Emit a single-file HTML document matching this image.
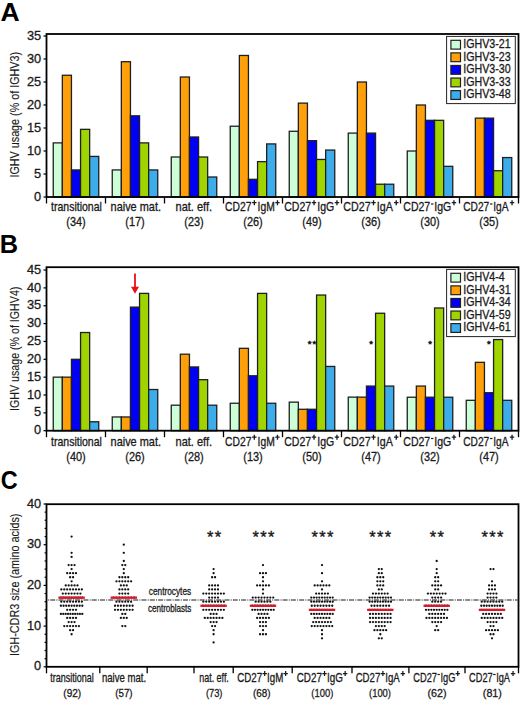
<!DOCTYPE html>
<html><head><meta charset="utf-8"><title>figure</title>
<style>html,body{margin:0;padding:0;background:#fff;} svg{display:block;} text{font-family:"Liberation Sans",sans-serif;}</style>
</head><body>
<svg width="520" height="702" viewBox="0 0 520 702" font-family="Liberation Sans, sans-serif">
<rect width="520" height="702" fill="#fff"/>
<text transform="translate(0.54,20.50) scale(1.0284,1)" font-size="25.8" font-weight="bold" fill="#000">A</text>
<rect x="53.25" y="142.88" width="9.10" height="54.12" fill="#ccffd8" stroke="#202020" stroke-width="1.3"/>
<rect x="62.35" y="75.24" width="9.10" height="121.76" fill="#ffa00a" stroke="#202020" stroke-width="1.3"/>
<rect x="71.45" y="169.94" width="9.10" height="27.06" fill="#0000f5" stroke="#202020" stroke-width="1.3"/>
<rect x="80.55" y="129.35" width="9.10" height="67.65" fill="#9fd400" stroke="#202020" stroke-width="1.3"/>
<rect x="89.65" y="156.41" width="9.10" height="40.59" fill="#3cacea" stroke="#202020" stroke-width="1.3"/>
<rect x="112.25" y="169.94" width="9.10" height="27.06" fill="#ccffd8" stroke="#202020" stroke-width="1.3"/>
<rect x="121.35" y="61.71" width="9.10" height="135.29" fill="#ffa00a" stroke="#202020" stroke-width="1.3"/>
<rect x="130.45" y="115.82" width="9.10" height="81.18" fill="#0000f5" stroke="#202020" stroke-width="1.3"/>
<rect x="139.55" y="142.88" width="9.10" height="54.12" fill="#9fd400" stroke="#202020" stroke-width="1.3"/>
<rect x="148.65" y="169.94" width="9.10" height="27.06" fill="#3cacea" stroke="#202020" stroke-width="1.3"/>
<rect x="171.25" y="157.00" width="9.10" height="40.00" fill="#ccffd8" stroke="#202020" stroke-width="1.3"/>
<rect x="180.35" y="77.00" width="9.10" height="120.00" fill="#ffa00a" stroke="#202020" stroke-width="1.3"/>
<rect x="189.45" y="137.00" width="9.10" height="60.00" fill="#0000f5" stroke="#202020" stroke-width="1.3"/>
<rect x="198.55" y="157.00" width="9.10" height="40.00" fill="#9fd400" stroke="#202020" stroke-width="1.3"/>
<rect x="207.65" y="177.00" width="9.10" height="20.00" fill="#3cacea" stroke="#202020" stroke-width="1.3"/>
<rect x="230.25" y="126.23" width="9.10" height="70.77" fill="#ccffd8" stroke="#202020" stroke-width="1.3"/>
<rect x="239.35" y="55.46" width="9.10" height="141.54" fill="#ffa00a" stroke="#202020" stroke-width="1.3"/>
<rect x="248.45" y="179.31" width="9.10" height="17.69" fill="#0000f5" stroke="#202020" stroke-width="1.3"/>
<rect x="257.55" y="161.62" width="9.10" height="35.38" fill="#9fd400" stroke="#202020" stroke-width="1.3"/>
<rect x="266.65" y="143.92" width="9.10" height="53.08" fill="#3cacea" stroke="#202020" stroke-width="1.3"/>
<rect x="289.25" y="131.29" width="9.10" height="65.71" fill="#ccffd8" stroke="#202020" stroke-width="1.3"/>
<rect x="298.35" y="103.12" width="9.10" height="93.88" fill="#ffa00a" stroke="#202020" stroke-width="1.3"/>
<rect x="307.45" y="140.67" width="9.10" height="56.33" fill="#0000f5" stroke="#202020" stroke-width="1.3"/>
<rect x="316.55" y="159.45" width="9.10" height="37.55" fill="#9fd400" stroke="#202020" stroke-width="1.3"/>
<rect x="325.65" y="150.06" width="9.10" height="46.94" fill="#3cacea" stroke="#202020" stroke-width="1.3"/>
<rect x="348.25" y="133.11" width="9.10" height="63.89" fill="#ccffd8" stroke="#202020" stroke-width="1.3"/>
<rect x="357.35" y="82.00" width="9.10" height="115.00" fill="#ffa00a" stroke="#202020" stroke-width="1.3"/>
<rect x="366.45" y="133.11" width="9.10" height="63.89" fill="#0000f5" stroke="#202020" stroke-width="1.3"/>
<rect x="375.55" y="184.22" width="9.10" height="12.78" fill="#9fd400" stroke="#202020" stroke-width="1.3"/>
<rect x="384.65" y="184.22" width="9.10" height="12.78" fill="#3cacea" stroke="#202020" stroke-width="1.3"/>
<rect x="407.25" y="151.00" width="9.10" height="46.00" fill="#ccffd8" stroke="#202020" stroke-width="1.3"/>
<rect x="416.35" y="105.00" width="9.10" height="92.00" fill="#ffa00a" stroke="#202020" stroke-width="1.3"/>
<rect x="425.45" y="120.33" width="9.10" height="76.67" fill="#0000f5" stroke="#202020" stroke-width="1.3"/>
<rect x="434.55" y="120.33" width="9.10" height="76.67" fill="#9fd400" stroke="#202020" stroke-width="1.3"/>
<rect x="443.65" y="166.33" width="9.10" height="30.67" fill="#3cacea" stroke="#202020" stroke-width="1.3"/>
<rect x="475.35" y="118.14" width="9.10" height="78.86" fill="#ffa00a" stroke="#202020" stroke-width="1.3"/>
<rect x="484.45" y="118.14" width="9.10" height="78.86" fill="#0000f5" stroke="#202020" stroke-width="1.3"/>
<rect x="493.55" y="170.71" width="9.10" height="26.29" fill="#9fd400" stroke="#202020" stroke-width="1.3"/>
<rect x="502.65" y="157.57" width="9.10" height="39.43" fill="#3cacea" stroke="#202020" stroke-width="1.3"/>
<rect x="46.5" y="34.0" width="472.0" height="163.0" fill="none" stroke="#000" stroke-width="1.8"/>
<line x1="43.5" y1="197.00" x2="46.5" y2="197.00" stroke="#000" stroke-width="1.2"/>
<text x="34.08" y="200.60" font-size="12.8" fill="#1a1a1a" stroke="#1a1a1a" stroke-width="0.3">0</text>
<line x1="43.5" y1="174.00" x2="46.5" y2="174.00" stroke="#000" stroke-width="1.2"/>
<text x="34.12" y="177.60" font-size="12.8" fill="#1a1a1a" stroke="#1a1a1a" stroke-width="0.3">5</text>
<line x1="43.5" y1="151.00" x2="46.5" y2="151.00" stroke="#000" stroke-width="1.2"/>
<text x="26.96" y="154.60" font-size="12.8" fill="#1a1a1a" stroke="#1a1a1a" stroke-width="0.3">10</text>
<line x1="43.5" y1="128.00" x2="46.5" y2="128.00" stroke="#000" stroke-width="1.2"/>
<text x="27.00" y="131.60" font-size="12.8" fill="#1a1a1a" stroke="#1a1a1a" stroke-width="0.3">15</text>
<line x1="43.5" y1="105.00" x2="46.5" y2="105.00" stroke="#000" stroke-width="1.2"/>
<text x="26.96" y="108.60" font-size="12.8" fill="#1a1a1a" stroke="#1a1a1a" stroke-width="0.3">20</text>
<line x1="43.5" y1="82.00" x2="46.5" y2="82.00" stroke="#000" stroke-width="1.2"/>
<text x="27.00" y="85.60" font-size="12.8" fill="#1a1a1a" stroke="#1a1a1a" stroke-width="0.3">25</text>
<line x1="43.5" y1="59.00" x2="46.5" y2="59.00" stroke="#000" stroke-width="1.2"/>
<text x="26.96" y="62.60" font-size="12.8" fill="#1a1a1a" stroke="#1a1a1a" stroke-width="0.3">30</text>
<line x1="43.5" y1="36.00" x2="46.5" y2="36.00" stroke="#000" stroke-width="1.2"/>
<text x="27.00" y="39.60" font-size="12.8" fill="#1a1a1a" stroke="#1a1a1a" stroke-width="0.3">35</text>
<line x1="46.50" y1="197.0" x2="46.50" y2="203.5" stroke="#000" stroke-width="1.3"/>
<line x1="105.50" y1="197.0" x2="105.50" y2="203.5" stroke="#000" stroke-width="1.3"/>
<line x1="164.50" y1="197.0" x2="164.50" y2="203.5" stroke="#000" stroke-width="1.3"/>
<line x1="223.50" y1="197.0" x2="223.50" y2="203.5" stroke="#000" stroke-width="1.3"/>
<line x1="282.50" y1="197.0" x2="282.50" y2="203.5" stroke="#000" stroke-width="1.3"/>
<line x1="341.50" y1="197.0" x2="341.50" y2="203.5" stroke="#000" stroke-width="1.3"/>
<line x1="400.50" y1="197.0" x2="400.50" y2="203.5" stroke="#000" stroke-width="1.3"/>
<line x1="459.50" y1="197.0" x2="459.50" y2="203.5" stroke="#000" stroke-width="1.3"/>
<line x1="518.50" y1="197.0" x2="518.50" y2="203.5" stroke="#000" stroke-width="1.3"/>
<text transform="translate(51.04,211.30) scale(0.8765,1)" font-size="12" font-weight="normal" fill="#1a1a1a" stroke="#1a1a1a" stroke-width="0.3">transitional</text>
<text transform="translate(66.27,226.10) scale(0.9118,1)" font-size="12" font-weight="normal" fill="#1a1a1a" stroke="#1a1a1a" stroke-width="0.3">(34)</text>
<text transform="translate(110.57,211.30) scale(0.9108,1)" font-size="12" font-weight="normal" fill="#1a1a1a" stroke="#1a1a1a" stroke-width="0.3">naive mat.</text>
<text transform="translate(125.27,226.10) scale(0.9118,1)" font-size="12" font-weight="normal" fill="#1a1a1a" stroke="#1a1a1a" stroke-width="0.3">(17)</text>
<text transform="translate(175.57,211.30) scale(0.9178,1)" font-size="12" font-weight="normal" fill="#1a1a1a" stroke="#1a1a1a" stroke-width="0.3">nat. eff.</text>
<text transform="translate(184.27,226.10) scale(0.9118,1)" font-size="12" font-weight="normal" fill="#1a1a1a" stroke="#1a1a1a" stroke-width="0.3">(23)</text>
<text transform="translate(225.03,211.30) scale(0.8611,1)" font-size="12" font-weight="normal" fill="#1a1a1a" stroke="#1a1a1a" stroke-width="0.3">CD27</text><path d="M252.13,202.70H256.53M254.33,200.20V205.20" stroke="#1a1a1a" stroke-width="1.3" fill="none"/><text transform="translate(257.57,211.30) scale(0.8611,1)" font-size="12" font-weight="normal" fill="#1a1a1a" stroke="#1a1a1a" stroke-width="0.3">IgM</text><path d="M275.25,202.70H279.65M277.45,200.20V205.20" stroke="#1a1a1a" stroke-width="1.3" fill="none"/>
<text transform="translate(243.27,226.10) scale(0.9118,1)" font-size="12" font-weight="normal" fill="#1a1a1a" stroke="#1a1a1a" stroke-width="0.3">(26)</text>
<text transform="translate(284.21,211.30) scale(0.8781,1)" font-size="12" font-weight="normal" fill="#1a1a1a" stroke="#1a1a1a" stroke-width="0.3">CD27</text><path d="M311.83,202.70H316.23M314.03,200.20V205.20" stroke="#1a1a1a" stroke-width="1.3" fill="none"/><text transform="translate(317.25,211.30) scale(0.8781,1)" font-size="12" font-weight="normal" fill="#1a1a1a" stroke="#1a1a1a" stroke-width="0.3">IgG</text><path d="M334.75,202.70H339.15M336.95,200.20V205.20" stroke="#1a1a1a" stroke-width="1.3" fill="none"/>
<text transform="translate(302.27,226.10) scale(0.9118,1)" font-size="12" font-weight="normal" fill="#1a1a1a" stroke="#1a1a1a" stroke-width="0.3">(49)</text>
<text transform="translate(343.31,211.30) scale(0.8911,1)" font-size="12" font-weight="normal" fill="#1a1a1a" stroke="#1a1a1a" stroke-width="0.3">CD27</text><path d="M371.31,202.70H375.71M373.51,200.20V205.20" stroke="#1a1a1a" stroke-width="1.3" fill="none"/><text transform="translate(376.72,211.30) scale(0.8911,1)" font-size="12" font-weight="normal" fill="#1a1a1a" stroke="#1a1a1a" stroke-width="0.3">IgA</text><path d="M394.05,202.70H398.45M396.25,200.20V205.20" stroke="#1a1a1a" stroke-width="1.3" fill="none"/>
<text transform="translate(361.27,226.10) scale(0.9118,1)" font-size="12" font-weight="normal" fill="#1a1a1a" stroke="#1a1a1a" stroke-width="0.3">(36)</text>
<text transform="translate(403.31,211.30) scale(0.8781,1)" font-size="12" font-weight="normal" fill="#1a1a1a" stroke="#1a1a1a" stroke-width="0.3">CD27</text><rect x="431.03" y="203.40" width="2.40" height="1.2" fill="#1a1a1a"/><text transform="translate(434.25,211.30) scale(0.8781,1)" font-size="12" font-weight="normal" fill="#1a1a1a" stroke="#1a1a1a" stroke-width="0.3">IgG</text><path d="M451.75,202.70H456.15M453.95,200.20V205.20" stroke="#1a1a1a" stroke-width="1.3" fill="none"/>
<text transform="translate(420.27,226.10) scale(0.9118,1)" font-size="12" font-weight="normal" fill="#1a1a1a" stroke="#1a1a1a" stroke-width="0.3">(30)</text>
<text transform="translate(463.23,211.30) scale(0.8479,1)" font-size="12" font-weight="normal" fill="#1a1a1a" stroke="#1a1a1a" stroke-width="0.3">CD27</text><rect x="490.04" y="203.40" width="2.40" height="1.2" fill="#1a1a1a"/><text transform="translate(493.30,211.30) scale(0.8479,1)" font-size="12" font-weight="normal" fill="#1a1a1a" stroke="#1a1a1a" stroke-width="0.3">IgA</text><path d="M509.85,202.70H514.25M512.05,200.20V205.20" stroke="#1a1a1a" stroke-width="1.3" fill="none"/>
<text transform="translate(479.27,226.10) scale(0.9118,1)" font-size="12" font-weight="normal" fill="#1a1a1a" stroke="#1a1a1a" stroke-width="0.3">(35)</text>
<text transform="translate(18.90,177.49) rotate(-90) scale(0.8747,1)" font-size="12.3" fill="#1a1a1a" stroke="#1a1a1a" stroke-width="0.12">IGHV usage (% of IGHV3)</text>
<rect x="446.6" y="36.4" width="68.69999999999993" height="67.19999999999999" fill="#fff" stroke="#222" stroke-width="1"/>
<rect x="450.9" y="40.30" width="9.6" height="8.8" fill="#ccffd8" stroke="#202020" stroke-width="1.2"/>
<text transform="translate(463.21,48.10) scale(0.8750,1)" font-size="12.2" font-weight="normal" fill="#1a1a1a" stroke="#1a1a1a" stroke-width="0.3">IGHV3-21</text>
<rect x="450.9" y="52.88" width="9.6" height="8.8" fill="#ffa00a" stroke="#202020" stroke-width="1.2"/>
<text transform="translate(463.21,60.68) scale(0.8750,1)" font-size="12.2" font-weight="normal" fill="#1a1a1a" stroke="#1a1a1a" stroke-width="0.3">IGHV3-23</text>
<rect x="450.9" y="65.46" width="9.6" height="8.8" fill="#0000f5" stroke="#202020" stroke-width="1.2"/>
<text transform="translate(463.21,73.26) scale(0.8750,1)" font-size="12.2" font-weight="normal" fill="#1a1a1a" stroke="#1a1a1a" stroke-width="0.3">IGHV3-30</text>
<rect x="450.9" y="78.04" width="9.6" height="8.8" fill="#9fd400" stroke="#202020" stroke-width="1.2"/>
<text transform="translate(463.21,85.84) scale(0.8750,1)" font-size="12.2" font-weight="normal" fill="#1a1a1a" stroke="#1a1a1a" stroke-width="0.3">IGHV3-33</text>
<rect x="450.9" y="90.62" width="9.6" height="8.8" fill="#3cacea" stroke="#202020" stroke-width="1.2"/>
<text transform="translate(463.21,98.42) scale(0.8750,1)" font-size="12.2" font-weight="normal" fill="#1a1a1a" stroke="#1a1a1a" stroke-width="0.3">IGHV3-48</text>
<text transform="translate(-0.30,252.80) scale(0.9851,1)" font-size="25.8" font-weight="bold" fill="#000">B</text>
<rect x="53.25" y="377.15" width="9.10" height="53.55" fill="#ccffd8" stroke="#202020" stroke-width="1.3"/>
<rect x="62.35" y="377.15" width="9.10" height="53.55" fill="#ffa00a" stroke="#202020" stroke-width="1.3"/>
<rect x="71.45" y="359.30" width="9.10" height="71.40" fill="#0000f5" stroke="#202020" stroke-width="1.3"/>
<rect x="80.55" y="332.52" width="9.10" height="98.17" fill="#9fd400" stroke="#202020" stroke-width="1.3"/>
<rect x="89.65" y="421.77" width="9.10" height="8.92" fill="#3cacea" stroke="#202020" stroke-width="1.3"/>
<rect x="112.25" y="416.97" width="9.10" height="13.73" fill="#ccffd8" stroke="#202020" stroke-width="1.3"/>
<rect x="121.35" y="416.97" width="9.10" height="13.73" fill="#ffa00a" stroke="#202020" stroke-width="1.3"/>
<rect x="130.45" y="307.12" width="9.10" height="123.58" fill="#0000f5" stroke="#202020" stroke-width="1.3"/>
<rect x="139.55" y="293.39" width="9.10" height="137.31" fill="#9fd400" stroke="#202020" stroke-width="1.3"/>
<rect x="148.65" y="389.51" width="9.10" height="41.19" fill="#3cacea" stroke="#202020" stroke-width="1.3"/>
<rect x="171.25" y="405.20" width="9.10" height="25.50" fill="#ccffd8" stroke="#202020" stroke-width="1.3"/>
<rect x="180.35" y="354.20" width="9.10" height="76.50" fill="#ffa00a" stroke="#202020" stroke-width="1.3"/>
<rect x="189.45" y="366.95" width="9.10" height="63.75" fill="#0000f5" stroke="#202020" stroke-width="1.3"/>
<rect x="198.55" y="379.70" width="9.10" height="51.00" fill="#9fd400" stroke="#202020" stroke-width="1.3"/>
<rect x="207.65" y="405.20" width="9.10" height="25.50" fill="#3cacea" stroke="#202020" stroke-width="1.3"/>
<rect x="230.25" y="403.24" width="9.10" height="27.46" fill="#ccffd8" stroke="#202020" stroke-width="1.3"/>
<rect x="239.35" y="348.32" width="9.10" height="82.38" fill="#ffa00a" stroke="#202020" stroke-width="1.3"/>
<rect x="248.45" y="375.78" width="9.10" height="54.92" fill="#0000f5" stroke="#202020" stroke-width="1.3"/>
<rect x="257.55" y="293.39" width="9.10" height="137.31" fill="#9fd400" stroke="#202020" stroke-width="1.3"/>
<rect x="266.65" y="403.24" width="9.10" height="27.46" fill="#3cacea" stroke="#202020" stroke-width="1.3"/>
<rect x="289.25" y="402.14" width="9.10" height="28.56" fill="#ccffd8" stroke="#202020" stroke-width="1.3"/>
<rect x="298.35" y="409.28" width="9.10" height="21.42" fill="#ffa00a" stroke="#202020" stroke-width="1.3"/>
<rect x="307.45" y="409.28" width="9.10" height="21.42" fill="#0000f5" stroke="#202020" stroke-width="1.3"/>
<rect x="316.55" y="295.04" width="9.10" height="135.66" fill="#9fd400" stroke="#202020" stroke-width="1.3"/>
<rect x="325.65" y="366.44" width="9.10" height="64.26" fill="#3cacea" stroke="#202020" stroke-width="1.3"/>
<rect x="348.25" y="397.14" width="9.10" height="33.56" fill="#ccffd8" stroke="#202020" stroke-width="1.3"/>
<rect x="357.35" y="397.14" width="9.10" height="33.56" fill="#ffa00a" stroke="#202020" stroke-width="1.3"/>
<rect x="366.45" y="386.07" width="9.10" height="44.62" fill="#0000f5" stroke="#202020" stroke-width="1.3"/>
<rect x="375.55" y="313.25" width="9.10" height="117.45" fill="#9fd400" stroke="#202020" stroke-width="1.3"/>
<rect x="384.65" y="386.07" width="9.10" height="44.62" fill="#3cacea" stroke="#202020" stroke-width="1.3"/>
<rect x="407.25" y="397.23" width="9.10" height="33.47" fill="#ccffd8" stroke="#202020" stroke-width="1.3"/>
<rect x="416.35" y="386.07" width="9.10" height="44.62" fill="#ffa00a" stroke="#202020" stroke-width="1.3"/>
<rect x="425.45" y="397.23" width="9.10" height="33.47" fill="#0000f5" stroke="#202020" stroke-width="1.3"/>
<rect x="434.55" y="307.98" width="9.10" height="122.72" fill="#9fd400" stroke="#202020" stroke-width="1.3"/>
<rect x="443.65" y="397.23" width="9.10" height="33.47" fill="#3cacea" stroke="#202020" stroke-width="1.3"/>
<rect x="466.25" y="400.32" width="9.10" height="30.38" fill="#ccffd8" stroke="#202020" stroke-width="1.3"/>
<rect x="475.35" y="362.34" width="9.10" height="68.36" fill="#ffa00a" stroke="#202020" stroke-width="1.3"/>
<rect x="484.45" y="392.72" width="9.10" height="37.98" fill="#0000f5" stroke="#202020" stroke-width="1.3"/>
<rect x="493.55" y="339.55" width="9.10" height="91.15" fill="#9fd400" stroke="#202020" stroke-width="1.3"/>
<rect x="502.65" y="400.32" width="9.10" height="30.38" fill="#3cacea" stroke="#202020" stroke-width="1.3"/>
<rect x="46.5" y="267.2" width="472.0" height="163.5" fill="none" stroke="#000" stroke-width="1.8"/>
<line x1="43.5" y1="430.70" x2="46.5" y2="430.70" stroke="#000" stroke-width="1.2"/>
<text x="34.08" y="434.30" font-size="12.8" fill="#1a1a1a" stroke="#1a1a1a" stroke-width="0.3">0</text>
<line x1="43.5" y1="412.85" x2="46.5" y2="412.85" stroke="#000" stroke-width="1.2"/>
<text x="34.12" y="416.45" font-size="12.8" fill="#1a1a1a" stroke="#1a1a1a" stroke-width="0.3">5</text>
<line x1="43.5" y1="395.00" x2="46.5" y2="395.00" stroke="#000" stroke-width="1.2"/>
<text x="26.96" y="398.60" font-size="12.8" fill="#1a1a1a" stroke="#1a1a1a" stroke-width="0.3">10</text>
<line x1="43.5" y1="377.15" x2="46.5" y2="377.15" stroke="#000" stroke-width="1.2"/>
<text x="27.00" y="380.75" font-size="12.8" fill="#1a1a1a" stroke="#1a1a1a" stroke-width="0.3">15</text>
<line x1="43.5" y1="359.30" x2="46.5" y2="359.30" stroke="#000" stroke-width="1.2"/>
<text x="26.96" y="362.90" font-size="12.8" fill="#1a1a1a" stroke="#1a1a1a" stroke-width="0.3">20</text>
<line x1="43.5" y1="341.45" x2="46.5" y2="341.45" stroke="#000" stroke-width="1.2"/>
<text x="27.00" y="345.05" font-size="12.8" fill="#1a1a1a" stroke="#1a1a1a" stroke-width="0.3">25</text>
<line x1="43.5" y1="323.60" x2="46.5" y2="323.60" stroke="#000" stroke-width="1.2"/>
<text x="26.96" y="327.20" font-size="12.8" fill="#1a1a1a" stroke="#1a1a1a" stroke-width="0.3">30</text>
<line x1="43.5" y1="305.75" x2="46.5" y2="305.75" stroke="#000" stroke-width="1.2"/>
<text x="27.00" y="309.35" font-size="12.8" fill="#1a1a1a" stroke="#1a1a1a" stroke-width="0.3">35</text>
<line x1="43.5" y1="287.90" x2="46.5" y2="287.90" stroke="#000" stroke-width="1.2"/>
<text x="26.96" y="291.50" font-size="12.8" fill="#1a1a1a" stroke="#1a1a1a" stroke-width="0.3">40</text>
<line x1="43.5" y1="270.05" x2="46.5" y2="270.05" stroke="#000" stroke-width="1.2"/>
<text x="27.00" y="273.65" font-size="12.8" fill="#1a1a1a" stroke="#1a1a1a" stroke-width="0.3">45</text>
<line x1="46.50" y1="430.7" x2="46.50" y2="437.2" stroke="#000" stroke-width="1.3"/>
<line x1="105.50" y1="430.7" x2="105.50" y2="437.2" stroke="#000" stroke-width="1.3"/>
<line x1="164.50" y1="430.7" x2="164.50" y2="437.2" stroke="#000" stroke-width="1.3"/>
<line x1="223.50" y1="430.7" x2="223.50" y2="437.2" stroke="#000" stroke-width="1.3"/>
<line x1="282.50" y1="430.7" x2="282.50" y2="437.2" stroke="#000" stroke-width="1.3"/>
<line x1="341.50" y1="430.7" x2="341.50" y2="437.2" stroke="#000" stroke-width="1.3"/>
<line x1="400.50" y1="430.7" x2="400.50" y2="437.2" stroke="#000" stroke-width="1.3"/>
<line x1="459.50" y1="430.7" x2="459.50" y2="437.2" stroke="#000" stroke-width="1.3"/>
<line x1="518.50" y1="430.7" x2="518.50" y2="437.2" stroke="#000" stroke-width="1.3"/>
<text transform="translate(51.04,445.80) scale(0.8765,1)" font-size="12" font-weight="normal" fill="#1a1a1a" stroke="#1a1a1a" stroke-width="0.3">transitional</text>
<text transform="translate(66.27,461.00) scale(0.9118,1)" font-size="12" font-weight="normal" fill="#1a1a1a" stroke="#1a1a1a" stroke-width="0.3">(40)</text>
<text transform="translate(110.57,445.80) scale(0.9108,1)" font-size="12" font-weight="normal" fill="#1a1a1a" stroke="#1a1a1a" stroke-width="0.3">naive mat.</text>
<text transform="translate(125.27,461.00) scale(0.9118,1)" font-size="12" font-weight="normal" fill="#1a1a1a" stroke="#1a1a1a" stroke-width="0.3">(26)</text>
<text transform="translate(175.57,445.80) scale(0.9178,1)" font-size="12" font-weight="normal" fill="#1a1a1a" stroke="#1a1a1a" stroke-width="0.3">nat. eff.</text>
<text transform="translate(184.27,461.00) scale(0.9118,1)" font-size="12" font-weight="normal" fill="#1a1a1a" stroke="#1a1a1a" stroke-width="0.3">(28)</text>
<text transform="translate(225.03,445.80) scale(0.8611,1)" font-size="12" font-weight="normal" fill="#1a1a1a" stroke="#1a1a1a" stroke-width="0.3">CD27</text><path d="M252.13,437.20H256.53M254.33,434.70V439.70" stroke="#1a1a1a" stroke-width="1.3" fill="none"/><text transform="translate(257.57,445.80) scale(0.8611,1)" font-size="12" font-weight="normal" fill="#1a1a1a" stroke="#1a1a1a" stroke-width="0.3">IgM</text><path d="M275.25,437.20H279.65M277.45,434.70V439.70" stroke="#1a1a1a" stroke-width="1.3" fill="none"/>
<text transform="translate(243.27,461.00) scale(0.9118,1)" font-size="12" font-weight="normal" fill="#1a1a1a" stroke="#1a1a1a" stroke-width="0.3">(13)</text>
<text transform="translate(284.21,445.80) scale(0.8781,1)" font-size="12" font-weight="normal" fill="#1a1a1a" stroke="#1a1a1a" stroke-width="0.3">CD27</text><path d="M311.83,437.20H316.23M314.03,434.70V439.70" stroke="#1a1a1a" stroke-width="1.3" fill="none"/><text transform="translate(317.25,445.80) scale(0.8781,1)" font-size="12" font-weight="normal" fill="#1a1a1a" stroke="#1a1a1a" stroke-width="0.3">IgG</text><path d="M334.75,437.20H339.15M336.95,434.70V439.70" stroke="#1a1a1a" stroke-width="1.3" fill="none"/>
<text transform="translate(302.27,461.00) scale(0.9118,1)" font-size="12" font-weight="normal" fill="#1a1a1a" stroke="#1a1a1a" stroke-width="0.3">(50)</text>
<text transform="translate(343.31,445.80) scale(0.8911,1)" font-size="12" font-weight="normal" fill="#1a1a1a" stroke="#1a1a1a" stroke-width="0.3">CD27</text><path d="M371.31,437.20H375.71M373.51,434.70V439.70" stroke="#1a1a1a" stroke-width="1.3" fill="none"/><text transform="translate(376.72,445.80) scale(0.8911,1)" font-size="12" font-weight="normal" fill="#1a1a1a" stroke="#1a1a1a" stroke-width="0.3">IgA</text><path d="M394.05,437.20H398.45M396.25,434.70V439.70" stroke="#1a1a1a" stroke-width="1.3" fill="none"/>
<text transform="translate(361.27,461.00) scale(0.9118,1)" font-size="12" font-weight="normal" fill="#1a1a1a" stroke="#1a1a1a" stroke-width="0.3">(47)</text>
<text transform="translate(403.31,445.80) scale(0.8781,1)" font-size="12" font-weight="normal" fill="#1a1a1a" stroke="#1a1a1a" stroke-width="0.3">CD27</text><rect x="431.03" y="437.90" width="2.40" height="1.2" fill="#1a1a1a"/><text transform="translate(434.25,445.80) scale(0.8781,1)" font-size="12" font-weight="normal" fill="#1a1a1a" stroke="#1a1a1a" stroke-width="0.3">IgG</text><path d="M451.75,437.20H456.15M453.95,434.70V439.70" stroke="#1a1a1a" stroke-width="1.3" fill="none"/>
<text transform="translate(420.27,461.00) scale(0.9118,1)" font-size="12" font-weight="normal" fill="#1a1a1a" stroke="#1a1a1a" stroke-width="0.3">(32)</text>
<text transform="translate(463.23,445.80) scale(0.8479,1)" font-size="12" font-weight="normal" fill="#1a1a1a" stroke="#1a1a1a" stroke-width="0.3">CD27</text><rect x="490.04" y="437.90" width="2.40" height="1.2" fill="#1a1a1a"/><text transform="translate(493.30,445.80) scale(0.8479,1)" font-size="12" font-weight="normal" fill="#1a1a1a" stroke="#1a1a1a" stroke-width="0.3">IgA</text><path d="M509.85,437.20H514.25M512.05,434.70V439.70" stroke="#1a1a1a" stroke-width="1.3" fill="none"/>
<text transform="translate(479.27,461.00) scale(0.9118,1)" font-size="12" font-weight="normal" fill="#1a1a1a" stroke="#1a1a1a" stroke-width="0.3">(47)</text>
<text transform="translate(18.90,410.98) rotate(-90) scale(0.8669,1)" font-size="12.3" fill="#1a1a1a" stroke="#1a1a1a" stroke-width="0.12">IGHV usage (% of IGHV4)</text>
<rect x="446.6" y="269.4" width="68.69999999999993" height="67.19999999999999" fill="#fff" stroke="#222" stroke-width="1"/>
<rect x="450.9" y="273.30" width="9.6" height="8.8" fill="#ccffd8" stroke="#202020" stroke-width="1.2"/>
<text transform="translate(463.21,281.10) scale(0.8750,1)" font-size="12.2" font-weight="normal" fill="#1a1a1a" stroke="#1a1a1a" stroke-width="0.3">IGHV4-4</text>
<rect x="450.9" y="285.88" width="9.6" height="8.8" fill="#ffa00a" stroke="#202020" stroke-width="1.2"/>
<text transform="translate(463.21,293.68) scale(0.8750,1)" font-size="12.2" font-weight="normal" fill="#1a1a1a" stroke="#1a1a1a" stroke-width="0.3">IGHV4-31</text>
<rect x="450.9" y="298.46" width="9.6" height="8.8" fill="#0000f5" stroke="#202020" stroke-width="1.2"/>
<text transform="translate(463.21,306.26) scale(0.8750,1)" font-size="12.2" font-weight="normal" fill="#1a1a1a" stroke="#1a1a1a" stroke-width="0.3">IGHV4-34</text>
<rect x="450.9" y="311.04" width="9.6" height="8.8" fill="#9fd400" stroke="#202020" stroke-width="1.2"/>
<text transform="translate(463.21,318.84) scale(0.8750,1)" font-size="12.2" font-weight="normal" fill="#1a1a1a" stroke="#1a1a1a" stroke-width="0.3">IGHV4-59</text>
<rect x="450.9" y="323.62" width="9.6" height="8.8" fill="#3cacea" stroke="#202020" stroke-width="1.2"/>
<text transform="translate(463.21,331.42) scale(0.8750,1)" font-size="12.2" font-weight="normal" fill="#1a1a1a" stroke="#1a1a1a" stroke-width="0.3">IGHV4-61</text>
<line x1="135" y1="273.5" x2="135" y2="288.5" stroke="#e5101e" stroke-width="1.8"/>
<path d="M131,286.8 L139,286.8 L135,293.8 Z" fill="#e5101e"/>
<text x="307.65" y="347.27" font-size="9.5" fill="#1a1a1a" stroke="#1a1a1a" stroke-width="0.5">*</text>
<text x="312.55" y="347.27" font-size="9.5" fill="#1a1a1a" stroke="#1a1a1a" stroke-width="0.5">*</text>
<text x="369.15" y="347.27" font-size="9.5" fill="#1a1a1a" stroke="#1a1a1a" stroke-width="0.5">*</text>
<text x="428.15" y="347.27" font-size="9.5" fill="#1a1a1a" stroke="#1a1a1a" stroke-width="0.5">*</text>
<text x="486.95" y="347.27" font-size="9.5" fill="#1a1a1a" stroke="#1a1a1a" stroke-width="0.5">*</text>
<text transform="translate(0.84,488.50) scale(0.9070,1)" font-size="25.8" font-weight="bold" fill="#000">C</text>
<line x1="47.5" y1="600.05" x2="517.5" y2="600.05" stroke="#666" stroke-width="1.4" stroke-dasharray="5 1.2 1 1.1" stroke-dashoffset="5.6"/>
<circle cx="71.60" cy="536.56" r="1.15" fill="#111"/>
<circle cx="71.60" cy="552.84" r="1.15" fill="#111"/>
<circle cx="71.60" cy="556.91" r="1.15" fill="#111"/>
<circle cx="68.67" cy="565.05" r="1.15" fill="#111"/>
<circle cx="71.60" cy="565.05" r="1.15" fill="#111"/>
<circle cx="74.53" cy="565.05" r="1.15" fill="#111"/>
<circle cx="71.60" cy="569.12" r="1.15" fill="#111"/>
<circle cx="67.20" cy="573.19" r="1.15" fill="#111"/>
<circle cx="70.13" cy="573.19" r="1.15" fill="#111"/>
<circle cx="73.06" cy="573.19" r="1.15" fill="#111"/>
<circle cx="75.99" cy="573.19" r="1.15" fill="#111"/>
<circle cx="70.13" cy="577.26" r="1.15" fill="#111"/>
<circle cx="73.06" cy="577.26" r="1.15" fill="#111"/>
<circle cx="71.60" cy="581.33" r="1.15" fill="#111"/>
<circle cx="65.74" cy="585.40" r="1.15" fill="#111"/>
<circle cx="68.67" cy="585.40" r="1.15" fill="#111"/>
<circle cx="71.60" cy="585.40" r="1.15" fill="#111"/>
<circle cx="74.53" cy="585.40" r="1.15" fill="#111"/>
<circle cx="77.46" cy="585.40" r="1.15" fill="#111"/>
<circle cx="61.34" cy="589.47" r="1.15" fill="#111"/>
<circle cx="64.27" cy="589.47" r="1.15" fill="#111"/>
<circle cx="67.20" cy="589.47" r="1.15" fill="#111"/>
<circle cx="70.13" cy="589.47" r="1.15" fill="#111"/>
<circle cx="73.06" cy="589.47" r="1.15" fill="#111"/>
<circle cx="75.99" cy="589.47" r="1.15" fill="#111"/>
<circle cx="78.92" cy="589.47" r="1.15" fill="#111"/>
<circle cx="81.85" cy="589.47" r="1.15" fill="#111"/>
<circle cx="62.81" cy="593.54" r="1.15" fill="#111"/>
<circle cx="65.74" cy="593.54" r="1.15" fill="#111"/>
<circle cx="68.67" cy="593.54" r="1.15" fill="#111"/>
<circle cx="71.60" cy="593.54" r="1.15" fill="#111"/>
<circle cx="74.53" cy="593.54" r="1.15" fill="#111"/>
<circle cx="77.46" cy="593.54" r="1.15" fill="#111"/>
<circle cx="80.39" cy="593.54" r="1.15" fill="#111"/>
<circle cx="60.90" cy="597.61" r="1.15" fill="#111"/>
<circle cx="63.04" cy="597.61" r="1.15" fill="#111"/>
<circle cx="65.18" cy="597.61" r="1.15" fill="#111"/>
<circle cx="67.32" cy="597.61" r="1.15" fill="#111"/>
<circle cx="69.46" cy="597.61" r="1.15" fill="#111"/>
<circle cx="71.60" cy="597.61" r="1.15" fill="#111"/>
<circle cx="73.74" cy="597.61" r="1.15" fill="#111"/>
<circle cx="75.88" cy="597.61" r="1.15" fill="#111"/>
<circle cx="78.02" cy="597.61" r="1.15" fill="#111"/>
<circle cx="80.16" cy="597.61" r="1.15" fill="#111"/>
<circle cx="82.30" cy="597.61" r="1.15" fill="#111"/>
<circle cx="61.34" cy="601.68" r="1.15" fill="#111"/>
<circle cx="64.27" cy="601.68" r="1.15" fill="#111"/>
<circle cx="67.20" cy="601.68" r="1.15" fill="#111"/>
<circle cx="70.13" cy="601.68" r="1.15" fill="#111"/>
<circle cx="73.06" cy="601.68" r="1.15" fill="#111"/>
<circle cx="75.99" cy="601.68" r="1.15" fill="#111"/>
<circle cx="78.92" cy="601.68" r="1.15" fill="#111"/>
<circle cx="81.85" cy="601.68" r="1.15" fill="#111"/>
<circle cx="60.90" cy="605.75" r="1.15" fill="#111"/>
<circle cx="63.57" cy="605.75" r="1.15" fill="#111"/>
<circle cx="66.25" cy="605.75" r="1.15" fill="#111"/>
<circle cx="68.92" cy="605.75" r="1.15" fill="#111"/>
<circle cx="71.60" cy="605.75" r="1.15" fill="#111"/>
<circle cx="74.27" cy="605.75" r="1.15" fill="#111"/>
<circle cx="76.95" cy="605.75" r="1.15" fill="#111"/>
<circle cx="79.62" cy="605.75" r="1.15" fill="#111"/>
<circle cx="82.30" cy="605.75" r="1.15" fill="#111"/>
<circle cx="67.20" cy="609.82" r="1.15" fill="#111"/>
<circle cx="70.13" cy="609.82" r="1.15" fill="#111"/>
<circle cx="73.06" cy="609.82" r="1.15" fill="#111"/>
<circle cx="75.99" cy="609.82" r="1.15" fill="#111"/>
<circle cx="60.90" cy="613.89" r="1.15" fill="#111"/>
<circle cx="63.28" cy="613.89" r="1.15" fill="#111"/>
<circle cx="65.66" cy="613.89" r="1.15" fill="#111"/>
<circle cx="68.03" cy="613.89" r="1.15" fill="#111"/>
<circle cx="70.41" cy="613.89" r="1.15" fill="#111"/>
<circle cx="72.79" cy="613.89" r="1.15" fill="#111"/>
<circle cx="75.17" cy="613.89" r="1.15" fill="#111"/>
<circle cx="77.54" cy="613.89" r="1.15" fill="#111"/>
<circle cx="79.92" cy="613.89" r="1.15" fill="#111"/>
<circle cx="82.30" cy="613.89" r="1.15" fill="#111"/>
<circle cx="67.20" cy="617.96" r="1.15" fill="#111"/>
<circle cx="70.13" cy="617.96" r="1.15" fill="#111"/>
<circle cx="73.06" cy="617.96" r="1.15" fill="#111"/>
<circle cx="75.99" cy="617.96" r="1.15" fill="#111"/>
<circle cx="68.67" cy="622.03" r="1.15" fill="#111"/>
<circle cx="71.60" cy="622.03" r="1.15" fill="#111"/>
<circle cx="74.53" cy="622.03" r="1.15" fill="#111"/>
<circle cx="64.27" cy="626.10" r="1.15" fill="#111"/>
<circle cx="67.20" cy="626.10" r="1.15" fill="#111"/>
<circle cx="70.13" cy="626.10" r="1.15" fill="#111"/>
<circle cx="73.06" cy="626.10" r="1.15" fill="#111"/>
<circle cx="75.99" cy="626.10" r="1.15" fill="#111"/>
<circle cx="78.92" cy="626.10" r="1.15" fill="#111"/>
<circle cx="70.13" cy="630.17" r="1.15" fill="#111"/>
<circle cx="73.06" cy="630.17" r="1.15" fill="#111"/>
<circle cx="71.60" cy="634.24" r="1.15" fill="#111"/>
<rect x="58.40" y="596.51" width="26.4" height="2.3" fill="#d8182a"/>
<circle cx="123.80" cy="544.70" r="1.15" fill="#111"/>
<circle cx="123.80" cy="552.84" r="1.15" fill="#111"/>
<circle cx="123.80" cy="560.98" r="1.15" fill="#111"/>
<circle cx="122.33" cy="565.05" r="1.15" fill="#111"/>
<circle cx="125.27" cy="565.05" r="1.15" fill="#111"/>
<circle cx="123.80" cy="569.12" r="1.15" fill="#111"/>
<circle cx="123.80" cy="573.19" r="1.15" fill="#111"/>
<circle cx="119.41" cy="577.26" r="1.15" fill="#111"/>
<circle cx="122.33" cy="577.26" r="1.15" fill="#111"/>
<circle cx="125.27" cy="577.26" r="1.15" fill="#111"/>
<circle cx="128.19" cy="577.26" r="1.15" fill="#111"/>
<circle cx="116.47" cy="581.33" r="1.15" fill="#111"/>
<circle cx="119.41" cy="581.33" r="1.15" fill="#111"/>
<circle cx="122.33" cy="581.33" r="1.15" fill="#111"/>
<circle cx="125.27" cy="581.33" r="1.15" fill="#111"/>
<circle cx="128.19" cy="581.33" r="1.15" fill="#111"/>
<circle cx="131.12" cy="581.33" r="1.15" fill="#111"/>
<circle cx="120.87" cy="585.40" r="1.15" fill="#111"/>
<circle cx="123.80" cy="585.40" r="1.15" fill="#111"/>
<circle cx="126.73" cy="585.40" r="1.15" fill="#111"/>
<circle cx="119.41" cy="589.47" r="1.15" fill="#111"/>
<circle cx="122.33" cy="589.47" r="1.15" fill="#111"/>
<circle cx="125.27" cy="589.47" r="1.15" fill="#111"/>
<circle cx="128.19" cy="589.47" r="1.15" fill="#111"/>
<circle cx="119.41" cy="593.54" r="1.15" fill="#111"/>
<circle cx="122.33" cy="593.54" r="1.15" fill="#111"/>
<circle cx="125.27" cy="593.54" r="1.15" fill="#111"/>
<circle cx="128.19" cy="593.54" r="1.15" fill="#111"/>
<circle cx="113.55" cy="597.61" r="1.15" fill="#111"/>
<circle cx="116.47" cy="597.61" r="1.15" fill="#111"/>
<circle cx="119.41" cy="597.61" r="1.15" fill="#111"/>
<circle cx="122.33" cy="597.61" r="1.15" fill="#111"/>
<circle cx="125.27" cy="597.61" r="1.15" fill="#111"/>
<circle cx="128.19" cy="597.61" r="1.15" fill="#111"/>
<circle cx="131.12" cy="597.61" r="1.15" fill="#111"/>
<circle cx="134.06" cy="597.61" r="1.15" fill="#111"/>
<circle cx="116.47" cy="601.68" r="1.15" fill="#111"/>
<circle cx="119.41" cy="601.68" r="1.15" fill="#111"/>
<circle cx="122.33" cy="601.68" r="1.15" fill="#111"/>
<circle cx="125.27" cy="601.68" r="1.15" fill="#111"/>
<circle cx="128.19" cy="601.68" r="1.15" fill="#111"/>
<circle cx="131.12" cy="601.68" r="1.15" fill="#111"/>
<circle cx="115.01" cy="605.75" r="1.15" fill="#111"/>
<circle cx="117.94" cy="605.75" r="1.15" fill="#111"/>
<circle cx="120.87" cy="605.75" r="1.15" fill="#111"/>
<circle cx="123.80" cy="605.75" r="1.15" fill="#111"/>
<circle cx="126.73" cy="605.75" r="1.15" fill="#111"/>
<circle cx="129.66" cy="605.75" r="1.15" fill="#111"/>
<circle cx="132.59" cy="605.75" r="1.15" fill="#111"/>
<circle cx="115.01" cy="609.82" r="1.15" fill="#111"/>
<circle cx="117.94" cy="609.82" r="1.15" fill="#111"/>
<circle cx="120.87" cy="609.82" r="1.15" fill="#111"/>
<circle cx="123.80" cy="609.82" r="1.15" fill="#111"/>
<circle cx="126.73" cy="609.82" r="1.15" fill="#111"/>
<circle cx="129.66" cy="609.82" r="1.15" fill="#111"/>
<circle cx="132.59" cy="609.82" r="1.15" fill="#111"/>
<circle cx="122.33" cy="613.89" r="1.15" fill="#111"/>
<circle cx="125.27" cy="613.89" r="1.15" fill="#111"/>
<circle cx="120.87" cy="617.96" r="1.15" fill="#111"/>
<circle cx="123.80" cy="617.96" r="1.15" fill="#111"/>
<circle cx="126.73" cy="617.96" r="1.15" fill="#111"/>
<circle cx="122.33" cy="626.10" r="1.15" fill="#111"/>
<circle cx="125.27" cy="626.10" r="1.15" fill="#111"/>
<rect x="110.60" y="596.51" width="26.4" height="2.3" fill="#d8182a"/>
<circle cx="213.60" cy="569.12" r="1.15" fill="#111"/>
<circle cx="213.60" cy="573.19" r="1.15" fill="#111"/>
<circle cx="212.13" cy="577.26" r="1.15" fill="#111"/>
<circle cx="215.06" cy="577.26" r="1.15" fill="#111"/>
<circle cx="209.20" cy="585.40" r="1.15" fill="#111"/>
<circle cx="212.13" cy="585.40" r="1.15" fill="#111"/>
<circle cx="215.06" cy="585.40" r="1.15" fill="#111"/>
<circle cx="218.00" cy="585.40" r="1.15" fill="#111"/>
<circle cx="209.20" cy="589.47" r="1.15" fill="#111"/>
<circle cx="212.13" cy="589.47" r="1.15" fill="#111"/>
<circle cx="215.06" cy="589.47" r="1.15" fill="#111"/>
<circle cx="218.00" cy="589.47" r="1.15" fill="#111"/>
<circle cx="203.34" cy="593.54" r="1.15" fill="#111"/>
<circle cx="206.28" cy="593.54" r="1.15" fill="#111"/>
<circle cx="209.20" cy="593.54" r="1.15" fill="#111"/>
<circle cx="212.13" cy="593.54" r="1.15" fill="#111"/>
<circle cx="215.06" cy="593.54" r="1.15" fill="#111"/>
<circle cx="218.00" cy="593.54" r="1.15" fill="#111"/>
<circle cx="220.92" cy="593.54" r="1.15" fill="#111"/>
<circle cx="223.85" cy="593.54" r="1.15" fill="#111"/>
<circle cx="209.20" cy="597.61" r="1.15" fill="#111"/>
<circle cx="212.13" cy="597.61" r="1.15" fill="#111"/>
<circle cx="215.06" cy="597.61" r="1.15" fill="#111"/>
<circle cx="218.00" cy="597.61" r="1.15" fill="#111"/>
<circle cx="203.34" cy="601.68" r="1.15" fill="#111"/>
<circle cx="206.28" cy="601.68" r="1.15" fill="#111"/>
<circle cx="209.20" cy="601.68" r="1.15" fill="#111"/>
<circle cx="212.13" cy="601.68" r="1.15" fill="#111"/>
<circle cx="215.06" cy="601.68" r="1.15" fill="#111"/>
<circle cx="218.00" cy="601.68" r="1.15" fill="#111"/>
<circle cx="220.92" cy="601.68" r="1.15" fill="#111"/>
<circle cx="223.85" cy="601.68" r="1.15" fill="#111"/>
<circle cx="202.90" cy="605.75" r="1.15" fill="#111"/>
<circle cx="205.57" cy="605.75" r="1.15" fill="#111"/>
<circle cx="208.25" cy="605.75" r="1.15" fill="#111"/>
<circle cx="210.92" cy="605.75" r="1.15" fill="#111"/>
<circle cx="213.60" cy="605.75" r="1.15" fill="#111"/>
<circle cx="216.28" cy="605.75" r="1.15" fill="#111"/>
<circle cx="218.95" cy="605.75" r="1.15" fill="#111"/>
<circle cx="221.62" cy="605.75" r="1.15" fill="#111"/>
<circle cx="224.30" cy="605.75" r="1.15" fill="#111"/>
<circle cx="203.34" cy="609.82" r="1.15" fill="#111"/>
<circle cx="206.28" cy="609.82" r="1.15" fill="#111"/>
<circle cx="209.20" cy="609.82" r="1.15" fill="#111"/>
<circle cx="212.13" cy="609.82" r="1.15" fill="#111"/>
<circle cx="215.06" cy="609.82" r="1.15" fill="#111"/>
<circle cx="218.00" cy="609.82" r="1.15" fill="#111"/>
<circle cx="220.92" cy="609.82" r="1.15" fill="#111"/>
<circle cx="223.85" cy="609.82" r="1.15" fill="#111"/>
<circle cx="210.67" cy="613.89" r="1.15" fill="#111"/>
<circle cx="213.60" cy="613.89" r="1.15" fill="#111"/>
<circle cx="216.53" cy="613.89" r="1.15" fill="#111"/>
<circle cx="204.81" cy="617.96" r="1.15" fill="#111"/>
<circle cx="207.74" cy="617.96" r="1.15" fill="#111"/>
<circle cx="210.67" cy="617.96" r="1.15" fill="#111"/>
<circle cx="213.60" cy="617.96" r="1.15" fill="#111"/>
<circle cx="216.53" cy="617.96" r="1.15" fill="#111"/>
<circle cx="219.46" cy="617.96" r="1.15" fill="#111"/>
<circle cx="222.39" cy="617.96" r="1.15" fill="#111"/>
<circle cx="210.67" cy="622.03" r="1.15" fill="#111"/>
<circle cx="213.60" cy="622.03" r="1.15" fill="#111"/>
<circle cx="216.53" cy="622.03" r="1.15" fill="#111"/>
<circle cx="212.13" cy="626.10" r="1.15" fill="#111"/>
<circle cx="215.06" cy="626.10" r="1.15" fill="#111"/>
<circle cx="213.60" cy="630.17" r="1.15" fill="#111"/>
<circle cx="213.60" cy="634.24" r="1.15" fill="#111"/>
<circle cx="213.60" cy="642.38" r="1.15" fill="#111"/>
<rect x="200.40" y="604.65" width="26.4" height="2.3" fill="#d8182a"/>
<circle cx="263.00" cy="565.05" r="1.15" fill="#111"/>
<circle cx="260.07" cy="573.19" r="1.15" fill="#111"/>
<circle cx="263.00" cy="573.19" r="1.15" fill="#111"/>
<circle cx="265.93" cy="573.19" r="1.15" fill="#111"/>
<circle cx="263.00" cy="577.26" r="1.15" fill="#111"/>
<circle cx="263.00" cy="581.33" r="1.15" fill="#111"/>
<circle cx="257.14" cy="585.40" r="1.15" fill="#111"/>
<circle cx="260.07" cy="585.40" r="1.15" fill="#111"/>
<circle cx="263.00" cy="585.40" r="1.15" fill="#111"/>
<circle cx="265.93" cy="585.40" r="1.15" fill="#111"/>
<circle cx="268.86" cy="585.40" r="1.15" fill="#111"/>
<circle cx="263.00" cy="589.47" r="1.15" fill="#111"/>
<circle cx="263.00" cy="593.54" r="1.15" fill="#111"/>
<circle cx="252.75" cy="597.61" r="1.15" fill="#111"/>
<circle cx="255.68" cy="597.61" r="1.15" fill="#111"/>
<circle cx="258.61" cy="597.61" r="1.15" fill="#111"/>
<circle cx="261.54" cy="597.61" r="1.15" fill="#111"/>
<circle cx="264.46" cy="597.61" r="1.15" fill="#111"/>
<circle cx="267.39" cy="597.61" r="1.15" fill="#111"/>
<circle cx="270.32" cy="597.61" r="1.15" fill="#111"/>
<circle cx="273.25" cy="597.61" r="1.15" fill="#111"/>
<circle cx="255.68" cy="601.68" r="1.15" fill="#111"/>
<circle cx="258.61" cy="601.68" r="1.15" fill="#111"/>
<circle cx="261.54" cy="601.68" r="1.15" fill="#111"/>
<circle cx="264.46" cy="601.68" r="1.15" fill="#111"/>
<circle cx="267.39" cy="601.68" r="1.15" fill="#111"/>
<circle cx="270.32" cy="601.68" r="1.15" fill="#111"/>
<circle cx="252.30" cy="605.75" r="1.15" fill="#111"/>
<circle cx="254.97" cy="605.75" r="1.15" fill="#111"/>
<circle cx="257.65" cy="605.75" r="1.15" fill="#111"/>
<circle cx="260.32" cy="605.75" r="1.15" fill="#111"/>
<circle cx="263.00" cy="605.75" r="1.15" fill="#111"/>
<circle cx="265.68" cy="605.75" r="1.15" fill="#111"/>
<circle cx="268.35" cy="605.75" r="1.15" fill="#111"/>
<circle cx="271.02" cy="605.75" r="1.15" fill="#111"/>
<circle cx="273.70" cy="605.75" r="1.15" fill="#111"/>
<circle cx="252.30" cy="609.82" r="1.15" fill="#111"/>
<circle cx="254.97" cy="609.82" r="1.15" fill="#111"/>
<circle cx="257.65" cy="609.82" r="1.15" fill="#111"/>
<circle cx="260.32" cy="609.82" r="1.15" fill="#111"/>
<circle cx="263.00" cy="609.82" r="1.15" fill="#111"/>
<circle cx="265.68" cy="609.82" r="1.15" fill="#111"/>
<circle cx="268.35" cy="609.82" r="1.15" fill="#111"/>
<circle cx="271.02" cy="609.82" r="1.15" fill="#111"/>
<circle cx="273.70" cy="609.82" r="1.15" fill="#111"/>
<circle cx="258.61" cy="613.89" r="1.15" fill="#111"/>
<circle cx="261.54" cy="613.89" r="1.15" fill="#111"/>
<circle cx="264.46" cy="613.89" r="1.15" fill="#111"/>
<circle cx="267.39" cy="613.89" r="1.15" fill="#111"/>
<circle cx="257.14" cy="617.96" r="1.15" fill="#111"/>
<circle cx="260.07" cy="617.96" r="1.15" fill="#111"/>
<circle cx="263.00" cy="617.96" r="1.15" fill="#111"/>
<circle cx="265.93" cy="617.96" r="1.15" fill="#111"/>
<circle cx="268.86" cy="617.96" r="1.15" fill="#111"/>
<circle cx="260.07" cy="622.03" r="1.15" fill="#111"/>
<circle cx="263.00" cy="622.03" r="1.15" fill="#111"/>
<circle cx="265.93" cy="622.03" r="1.15" fill="#111"/>
<circle cx="260.07" cy="626.10" r="1.15" fill="#111"/>
<circle cx="263.00" cy="626.10" r="1.15" fill="#111"/>
<circle cx="265.93" cy="626.10" r="1.15" fill="#111"/>
<circle cx="263.00" cy="630.17" r="1.15" fill="#111"/>
<circle cx="260.07" cy="634.24" r="1.15" fill="#111"/>
<circle cx="263.00" cy="634.24" r="1.15" fill="#111"/>
<circle cx="265.93" cy="634.24" r="1.15" fill="#111"/>
<rect x="249.80" y="604.65" width="26.4" height="2.3" fill="#d8182a"/>
<circle cx="322.00" cy="565.05" r="1.15" fill="#111"/>
<circle cx="322.00" cy="573.19" r="1.15" fill="#111"/>
<circle cx="322.00" cy="581.33" r="1.15" fill="#111"/>
<circle cx="314.68" cy="585.40" r="1.15" fill="#111"/>
<circle cx="317.61" cy="585.40" r="1.15" fill="#111"/>
<circle cx="320.54" cy="585.40" r="1.15" fill="#111"/>
<circle cx="323.46" cy="585.40" r="1.15" fill="#111"/>
<circle cx="326.39" cy="585.40" r="1.15" fill="#111"/>
<circle cx="329.32" cy="585.40" r="1.15" fill="#111"/>
<circle cx="322.00" cy="589.47" r="1.15" fill="#111"/>
<circle cx="316.14" cy="593.54" r="1.15" fill="#111"/>
<circle cx="319.07" cy="593.54" r="1.15" fill="#111"/>
<circle cx="322.00" cy="593.54" r="1.15" fill="#111"/>
<circle cx="324.93" cy="593.54" r="1.15" fill="#111"/>
<circle cx="327.86" cy="593.54" r="1.15" fill="#111"/>
<circle cx="311.30" cy="597.61" r="1.15" fill="#111"/>
<circle cx="313.98" cy="597.61" r="1.15" fill="#111"/>
<circle cx="316.65" cy="597.61" r="1.15" fill="#111"/>
<circle cx="319.32" cy="597.61" r="1.15" fill="#111"/>
<circle cx="322.00" cy="597.61" r="1.15" fill="#111"/>
<circle cx="324.68" cy="597.61" r="1.15" fill="#111"/>
<circle cx="327.35" cy="597.61" r="1.15" fill="#111"/>
<circle cx="330.02" cy="597.61" r="1.15" fill="#111"/>
<circle cx="332.70" cy="597.61" r="1.15" fill="#111"/>
<circle cx="311.30" cy="601.68" r="1.15" fill="#111"/>
<circle cx="313.98" cy="601.68" r="1.15" fill="#111"/>
<circle cx="316.65" cy="601.68" r="1.15" fill="#111"/>
<circle cx="319.32" cy="601.68" r="1.15" fill="#111"/>
<circle cx="322.00" cy="601.68" r="1.15" fill="#111"/>
<circle cx="324.68" cy="601.68" r="1.15" fill="#111"/>
<circle cx="327.35" cy="601.68" r="1.15" fill="#111"/>
<circle cx="330.02" cy="601.68" r="1.15" fill="#111"/>
<circle cx="332.70" cy="601.68" r="1.15" fill="#111"/>
<circle cx="311.75" cy="605.75" r="1.15" fill="#111"/>
<circle cx="314.68" cy="605.75" r="1.15" fill="#111"/>
<circle cx="317.61" cy="605.75" r="1.15" fill="#111"/>
<circle cx="320.54" cy="605.75" r="1.15" fill="#111"/>
<circle cx="323.46" cy="605.75" r="1.15" fill="#111"/>
<circle cx="326.39" cy="605.75" r="1.15" fill="#111"/>
<circle cx="329.32" cy="605.75" r="1.15" fill="#111"/>
<circle cx="332.25" cy="605.75" r="1.15" fill="#111"/>
<circle cx="311.30" cy="609.82" r="1.15" fill="#111"/>
<circle cx="313.98" cy="609.82" r="1.15" fill="#111"/>
<circle cx="316.65" cy="609.82" r="1.15" fill="#111"/>
<circle cx="319.32" cy="609.82" r="1.15" fill="#111"/>
<circle cx="322.00" cy="609.82" r="1.15" fill="#111"/>
<circle cx="324.68" cy="609.82" r="1.15" fill="#111"/>
<circle cx="327.35" cy="609.82" r="1.15" fill="#111"/>
<circle cx="330.02" cy="609.82" r="1.15" fill="#111"/>
<circle cx="332.70" cy="609.82" r="1.15" fill="#111"/>
<circle cx="311.30" cy="613.89" r="1.15" fill="#111"/>
<circle cx="313.98" cy="613.89" r="1.15" fill="#111"/>
<circle cx="316.65" cy="613.89" r="1.15" fill="#111"/>
<circle cx="319.32" cy="613.89" r="1.15" fill="#111"/>
<circle cx="322.00" cy="613.89" r="1.15" fill="#111"/>
<circle cx="324.68" cy="613.89" r="1.15" fill="#111"/>
<circle cx="327.35" cy="613.89" r="1.15" fill="#111"/>
<circle cx="330.02" cy="613.89" r="1.15" fill="#111"/>
<circle cx="332.70" cy="613.89" r="1.15" fill="#111"/>
<circle cx="314.68" cy="617.96" r="1.15" fill="#111"/>
<circle cx="317.61" cy="617.96" r="1.15" fill="#111"/>
<circle cx="320.54" cy="617.96" r="1.15" fill="#111"/>
<circle cx="323.46" cy="617.96" r="1.15" fill="#111"/>
<circle cx="326.39" cy="617.96" r="1.15" fill="#111"/>
<circle cx="329.32" cy="617.96" r="1.15" fill="#111"/>
<circle cx="313.21" cy="622.03" r="1.15" fill="#111"/>
<circle cx="316.14" cy="622.03" r="1.15" fill="#111"/>
<circle cx="319.07" cy="622.03" r="1.15" fill="#111"/>
<circle cx="322.00" cy="622.03" r="1.15" fill="#111"/>
<circle cx="324.93" cy="622.03" r="1.15" fill="#111"/>
<circle cx="327.86" cy="622.03" r="1.15" fill="#111"/>
<circle cx="330.79" cy="622.03" r="1.15" fill="#111"/>
<circle cx="311.75" cy="626.10" r="1.15" fill="#111"/>
<circle cx="314.68" cy="626.10" r="1.15" fill="#111"/>
<circle cx="317.61" cy="626.10" r="1.15" fill="#111"/>
<circle cx="320.54" cy="626.10" r="1.15" fill="#111"/>
<circle cx="323.46" cy="626.10" r="1.15" fill="#111"/>
<circle cx="326.39" cy="626.10" r="1.15" fill="#111"/>
<circle cx="329.32" cy="626.10" r="1.15" fill="#111"/>
<circle cx="332.25" cy="626.10" r="1.15" fill="#111"/>
<circle cx="322.00" cy="630.17" r="1.15" fill="#111"/>
<circle cx="322.00" cy="634.24" r="1.15" fill="#111"/>
<circle cx="322.00" cy="638.31" r="1.15" fill="#111"/>
<rect x="308.80" y="608.72" width="26.4" height="2.3" fill="#d8182a"/>
<circle cx="378.84" cy="569.12" r="1.15" fill="#111"/>
<circle cx="381.76" cy="569.12" r="1.15" fill="#111"/>
<circle cx="378.84" cy="573.19" r="1.15" fill="#111"/>
<circle cx="381.76" cy="573.19" r="1.15" fill="#111"/>
<circle cx="377.37" cy="577.26" r="1.15" fill="#111"/>
<circle cx="380.30" cy="577.26" r="1.15" fill="#111"/>
<circle cx="383.23" cy="577.26" r="1.15" fill="#111"/>
<circle cx="377.37" cy="581.33" r="1.15" fill="#111"/>
<circle cx="380.30" cy="581.33" r="1.15" fill="#111"/>
<circle cx="383.23" cy="581.33" r="1.15" fill="#111"/>
<circle cx="377.37" cy="585.40" r="1.15" fill="#111"/>
<circle cx="380.30" cy="585.40" r="1.15" fill="#111"/>
<circle cx="383.23" cy="585.40" r="1.15" fill="#111"/>
<circle cx="378.84" cy="589.47" r="1.15" fill="#111"/>
<circle cx="381.76" cy="589.47" r="1.15" fill="#111"/>
<circle cx="372.98" cy="593.54" r="1.15" fill="#111"/>
<circle cx="375.91" cy="593.54" r="1.15" fill="#111"/>
<circle cx="378.84" cy="593.54" r="1.15" fill="#111"/>
<circle cx="381.76" cy="593.54" r="1.15" fill="#111"/>
<circle cx="384.69" cy="593.54" r="1.15" fill="#111"/>
<circle cx="387.62" cy="593.54" r="1.15" fill="#111"/>
<circle cx="369.60" cy="597.61" r="1.15" fill="#111"/>
<circle cx="372.28" cy="597.61" r="1.15" fill="#111"/>
<circle cx="374.95" cy="597.61" r="1.15" fill="#111"/>
<circle cx="377.62" cy="597.61" r="1.15" fill="#111"/>
<circle cx="380.30" cy="597.61" r="1.15" fill="#111"/>
<circle cx="382.98" cy="597.61" r="1.15" fill="#111"/>
<circle cx="385.65" cy="597.61" r="1.15" fill="#111"/>
<circle cx="388.32" cy="597.61" r="1.15" fill="#111"/>
<circle cx="391.00" cy="597.61" r="1.15" fill="#111"/>
<circle cx="369.60" cy="601.68" r="1.15" fill="#111"/>
<circle cx="372.28" cy="601.68" r="1.15" fill="#111"/>
<circle cx="374.95" cy="601.68" r="1.15" fill="#111"/>
<circle cx="377.62" cy="601.68" r="1.15" fill="#111"/>
<circle cx="380.30" cy="601.68" r="1.15" fill="#111"/>
<circle cx="382.98" cy="601.68" r="1.15" fill="#111"/>
<circle cx="385.65" cy="601.68" r="1.15" fill="#111"/>
<circle cx="388.32" cy="601.68" r="1.15" fill="#111"/>
<circle cx="391.00" cy="601.68" r="1.15" fill="#111"/>
<circle cx="371.51" cy="605.75" r="1.15" fill="#111"/>
<circle cx="374.44" cy="605.75" r="1.15" fill="#111"/>
<circle cx="377.37" cy="605.75" r="1.15" fill="#111"/>
<circle cx="380.30" cy="605.75" r="1.15" fill="#111"/>
<circle cx="383.23" cy="605.75" r="1.15" fill="#111"/>
<circle cx="386.16" cy="605.75" r="1.15" fill="#111"/>
<circle cx="389.09" cy="605.75" r="1.15" fill="#111"/>
<circle cx="369.60" cy="609.82" r="1.15" fill="#111"/>
<circle cx="372.28" cy="609.82" r="1.15" fill="#111"/>
<circle cx="374.95" cy="609.82" r="1.15" fill="#111"/>
<circle cx="377.62" cy="609.82" r="1.15" fill="#111"/>
<circle cx="380.30" cy="609.82" r="1.15" fill="#111"/>
<circle cx="382.98" cy="609.82" r="1.15" fill="#111"/>
<circle cx="385.65" cy="609.82" r="1.15" fill="#111"/>
<circle cx="388.32" cy="609.82" r="1.15" fill="#111"/>
<circle cx="391.00" cy="609.82" r="1.15" fill="#111"/>
<circle cx="370.05" cy="613.89" r="1.15" fill="#111"/>
<circle cx="372.98" cy="613.89" r="1.15" fill="#111"/>
<circle cx="375.91" cy="613.89" r="1.15" fill="#111"/>
<circle cx="378.84" cy="613.89" r="1.15" fill="#111"/>
<circle cx="381.76" cy="613.89" r="1.15" fill="#111"/>
<circle cx="384.69" cy="613.89" r="1.15" fill="#111"/>
<circle cx="387.62" cy="613.89" r="1.15" fill="#111"/>
<circle cx="390.56" cy="613.89" r="1.15" fill="#111"/>
<circle cx="370.05" cy="617.96" r="1.15" fill="#111"/>
<circle cx="372.98" cy="617.96" r="1.15" fill="#111"/>
<circle cx="375.91" cy="617.96" r="1.15" fill="#111"/>
<circle cx="378.84" cy="617.96" r="1.15" fill="#111"/>
<circle cx="381.76" cy="617.96" r="1.15" fill="#111"/>
<circle cx="384.69" cy="617.96" r="1.15" fill="#111"/>
<circle cx="387.62" cy="617.96" r="1.15" fill="#111"/>
<circle cx="390.56" cy="617.96" r="1.15" fill="#111"/>
<circle cx="370.05" cy="622.03" r="1.15" fill="#111"/>
<circle cx="372.98" cy="622.03" r="1.15" fill="#111"/>
<circle cx="375.91" cy="622.03" r="1.15" fill="#111"/>
<circle cx="378.84" cy="622.03" r="1.15" fill="#111"/>
<circle cx="381.76" cy="622.03" r="1.15" fill="#111"/>
<circle cx="384.69" cy="622.03" r="1.15" fill="#111"/>
<circle cx="387.62" cy="622.03" r="1.15" fill="#111"/>
<circle cx="390.56" cy="622.03" r="1.15" fill="#111"/>
<circle cx="375.91" cy="626.10" r="1.15" fill="#111"/>
<circle cx="378.84" cy="626.10" r="1.15" fill="#111"/>
<circle cx="381.76" cy="626.10" r="1.15" fill="#111"/>
<circle cx="384.69" cy="626.10" r="1.15" fill="#111"/>
<circle cx="374.44" cy="630.17" r="1.15" fill="#111"/>
<circle cx="377.37" cy="630.17" r="1.15" fill="#111"/>
<circle cx="380.30" cy="630.17" r="1.15" fill="#111"/>
<circle cx="383.23" cy="630.17" r="1.15" fill="#111"/>
<circle cx="386.16" cy="630.17" r="1.15" fill="#111"/>
<circle cx="380.30" cy="634.24" r="1.15" fill="#111"/>
<circle cx="378.84" cy="638.31" r="1.15" fill="#111"/>
<circle cx="381.76" cy="638.31" r="1.15" fill="#111"/>
<rect x="367.10" y="608.72" width="26.4" height="2.3" fill="#d8182a"/>
<circle cx="436.70" cy="560.98" r="1.15" fill="#111"/>
<circle cx="436.70" cy="569.12" r="1.15" fill="#111"/>
<circle cx="436.70" cy="573.19" r="1.15" fill="#111"/>
<circle cx="435.24" cy="577.26" r="1.15" fill="#111"/>
<circle cx="438.16" cy="577.26" r="1.15" fill="#111"/>
<circle cx="435.24" cy="581.33" r="1.15" fill="#111"/>
<circle cx="438.16" cy="581.33" r="1.15" fill="#111"/>
<circle cx="432.31" cy="585.40" r="1.15" fill="#111"/>
<circle cx="435.24" cy="585.40" r="1.15" fill="#111"/>
<circle cx="438.16" cy="585.40" r="1.15" fill="#111"/>
<circle cx="441.09" cy="585.40" r="1.15" fill="#111"/>
<circle cx="435.24" cy="589.47" r="1.15" fill="#111"/>
<circle cx="438.16" cy="589.47" r="1.15" fill="#111"/>
<circle cx="427.91" cy="593.54" r="1.15" fill="#111"/>
<circle cx="430.84" cy="593.54" r="1.15" fill="#111"/>
<circle cx="433.77" cy="593.54" r="1.15" fill="#111"/>
<circle cx="436.70" cy="593.54" r="1.15" fill="#111"/>
<circle cx="439.63" cy="593.54" r="1.15" fill="#111"/>
<circle cx="442.56" cy="593.54" r="1.15" fill="#111"/>
<circle cx="445.49" cy="593.54" r="1.15" fill="#111"/>
<circle cx="432.31" cy="597.61" r="1.15" fill="#111"/>
<circle cx="435.24" cy="597.61" r="1.15" fill="#111"/>
<circle cx="438.16" cy="597.61" r="1.15" fill="#111"/>
<circle cx="441.09" cy="597.61" r="1.15" fill="#111"/>
<circle cx="432.31" cy="601.68" r="1.15" fill="#111"/>
<circle cx="435.24" cy="601.68" r="1.15" fill="#111"/>
<circle cx="438.16" cy="601.68" r="1.15" fill="#111"/>
<circle cx="441.09" cy="601.68" r="1.15" fill="#111"/>
<circle cx="426.00" cy="605.75" r="1.15" fill="#111"/>
<circle cx="428.68" cy="605.75" r="1.15" fill="#111"/>
<circle cx="431.35" cy="605.75" r="1.15" fill="#111"/>
<circle cx="434.02" cy="605.75" r="1.15" fill="#111"/>
<circle cx="436.70" cy="605.75" r="1.15" fill="#111"/>
<circle cx="439.38" cy="605.75" r="1.15" fill="#111"/>
<circle cx="442.05" cy="605.75" r="1.15" fill="#111"/>
<circle cx="444.72" cy="605.75" r="1.15" fill="#111"/>
<circle cx="447.40" cy="605.75" r="1.15" fill="#111"/>
<circle cx="426.00" cy="609.82" r="1.15" fill="#111"/>
<circle cx="428.68" cy="609.82" r="1.15" fill="#111"/>
<circle cx="431.35" cy="609.82" r="1.15" fill="#111"/>
<circle cx="434.02" cy="609.82" r="1.15" fill="#111"/>
<circle cx="436.70" cy="609.82" r="1.15" fill="#111"/>
<circle cx="439.38" cy="609.82" r="1.15" fill="#111"/>
<circle cx="442.05" cy="609.82" r="1.15" fill="#111"/>
<circle cx="444.72" cy="609.82" r="1.15" fill="#111"/>
<circle cx="447.40" cy="609.82" r="1.15" fill="#111"/>
<circle cx="429.38" cy="613.89" r="1.15" fill="#111"/>
<circle cx="432.31" cy="613.89" r="1.15" fill="#111"/>
<circle cx="435.24" cy="613.89" r="1.15" fill="#111"/>
<circle cx="438.16" cy="613.89" r="1.15" fill="#111"/>
<circle cx="441.09" cy="613.89" r="1.15" fill="#111"/>
<circle cx="444.02" cy="613.89" r="1.15" fill="#111"/>
<circle cx="426.44" cy="617.96" r="1.15" fill="#111"/>
<circle cx="429.38" cy="617.96" r="1.15" fill="#111"/>
<circle cx="432.31" cy="617.96" r="1.15" fill="#111"/>
<circle cx="435.24" cy="617.96" r="1.15" fill="#111"/>
<circle cx="438.16" cy="617.96" r="1.15" fill="#111"/>
<circle cx="441.09" cy="617.96" r="1.15" fill="#111"/>
<circle cx="444.02" cy="617.96" r="1.15" fill="#111"/>
<circle cx="446.95" cy="617.96" r="1.15" fill="#111"/>
<circle cx="432.31" cy="622.03" r="1.15" fill="#111"/>
<circle cx="435.24" cy="622.03" r="1.15" fill="#111"/>
<circle cx="438.16" cy="622.03" r="1.15" fill="#111"/>
<circle cx="441.09" cy="622.03" r="1.15" fill="#111"/>
<circle cx="436.70" cy="626.10" r="1.15" fill="#111"/>
<circle cx="435.24" cy="630.17" r="1.15" fill="#111"/>
<circle cx="438.16" cy="630.17" r="1.15" fill="#111"/>
<rect x="423.50" y="604.65" width="26.4" height="2.3" fill="#d8182a"/>
<circle cx="490.54" cy="569.12" r="1.15" fill="#111"/>
<circle cx="493.46" cy="569.12" r="1.15" fill="#111"/>
<circle cx="492.00" cy="581.33" r="1.15" fill="#111"/>
<circle cx="489.07" cy="585.40" r="1.15" fill="#111"/>
<circle cx="492.00" cy="585.40" r="1.15" fill="#111"/>
<circle cx="494.93" cy="585.40" r="1.15" fill="#111"/>
<circle cx="489.07" cy="589.47" r="1.15" fill="#111"/>
<circle cx="492.00" cy="589.47" r="1.15" fill="#111"/>
<circle cx="494.93" cy="589.47" r="1.15" fill="#111"/>
<circle cx="487.61" cy="593.54" r="1.15" fill="#111"/>
<circle cx="490.54" cy="593.54" r="1.15" fill="#111"/>
<circle cx="493.46" cy="593.54" r="1.15" fill="#111"/>
<circle cx="496.39" cy="593.54" r="1.15" fill="#111"/>
<circle cx="487.61" cy="597.61" r="1.15" fill="#111"/>
<circle cx="490.54" cy="597.61" r="1.15" fill="#111"/>
<circle cx="493.46" cy="597.61" r="1.15" fill="#111"/>
<circle cx="496.39" cy="597.61" r="1.15" fill="#111"/>
<circle cx="481.75" cy="601.68" r="1.15" fill="#111"/>
<circle cx="484.68" cy="601.68" r="1.15" fill="#111"/>
<circle cx="487.61" cy="601.68" r="1.15" fill="#111"/>
<circle cx="490.54" cy="601.68" r="1.15" fill="#111"/>
<circle cx="493.46" cy="601.68" r="1.15" fill="#111"/>
<circle cx="496.39" cy="601.68" r="1.15" fill="#111"/>
<circle cx="499.32" cy="601.68" r="1.15" fill="#111"/>
<circle cx="502.25" cy="601.68" r="1.15" fill="#111"/>
<circle cx="481.30" cy="605.75" r="1.15" fill="#111"/>
<circle cx="483.98" cy="605.75" r="1.15" fill="#111"/>
<circle cx="486.65" cy="605.75" r="1.15" fill="#111"/>
<circle cx="489.32" cy="605.75" r="1.15" fill="#111"/>
<circle cx="492.00" cy="605.75" r="1.15" fill="#111"/>
<circle cx="494.68" cy="605.75" r="1.15" fill="#111"/>
<circle cx="497.35" cy="605.75" r="1.15" fill="#111"/>
<circle cx="500.02" cy="605.75" r="1.15" fill="#111"/>
<circle cx="502.70" cy="605.75" r="1.15" fill="#111"/>
<circle cx="481.30" cy="609.82" r="1.15" fill="#111"/>
<circle cx="483.98" cy="609.82" r="1.15" fill="#111"/>
<circle cx="486.65" cy="609.82" r="1.15" fill="#111"/>
<circle cx="489.32" cy="609.82" r="1.15" fill="#111"/>
<circle cx="492.00" cy="609.82" r="1.15" fill="#111"/>
<circle cx="494.68" cy="609.82" r="1.15" fill="#111"/>
<circle cx="497.35" cy="609.82" r="1.15" fill="#111"/>
<circle cx="500.02" cy="609.82" r="1.15" fill="#111"/>
<circle cx="502.70" cy="609.82" r="1.15" fill="#111"/>
<circle cx="483.21" cy="613.89" r="1.15" fill="#111"/>
<circle cx="486.14" cy="613.89" r="1.15" fill="#111"/>
<circle cx="489.07" cy="613.89" r="1.15" fill="#111"/>
<circle cx="492.00" cy="613.89" r="1.15" fill="#111"/>
<circle cx="494.93" cy="613.89" r="1.15" fill="#111"/>
<circle cx="497.86" cy="613.89" r="1.15" fill="#111"/>
<circle cx="500.79" cy="613.89" r="1.15" fill="#111"/>
<circle cx="481.75" cy="617.96" r="1.15" fill="#111"/>
<circle cx="484.68" cy="617.96" r="1.15" fill="#111"/>
<circle cx="487.61" cy="617.96" r="1.15" fill="#111"/>
<circle cx="490.54" cy="617.96" r="1.15" fill="#111"/>
<circle cx="493.46" cy="617.96" r="1.15" fill="#111"/>
<circle cx="496.39" cy="617.96" r="1.15" fill="#111"/>
<circle cx="499.32" cy="617.96" r="1.15" fill="#111"/>
<circle cx="502.25" cy="617.96" r="1.15" fill="#111"/>
<circle cx="487.61" cy="622.03" r="1.15" fill="#111"/>
<circle cx="490.54" cy="622.03" r="1.15" fill="#111"/>
<circle cx="493.46" cy="622.03" r="1.15" fill="#111"/>
<circle cx="496.39" cy="622.03" r="1.15" fill="#111"/>
<circle cx="490.54" cy="626.10" r="1.15" fill="#111"/>
<circle cx="493.46" cy="626.10" r="1.15" fill="#111"/>
<circle cx="486.14" cy="630.17" r="1.15" fill="#111"/>
<circle cx="489.07" cy="630.17" r="1.15" fill="#111"/>
<circle cx="492.00" cy="630.17" r="1.15" fill="#111"/>
<circle cx="494.93" cy="630.17" r="1.15" fill="#111"/>
<circle cx="497.86" cy="630.17" r="1.15" fill="#111"/>
<circle cx="490.54" cy="634.24" r="1.15" fill="#111"/>
<circle cx="493.46" cy="634.24" r="1.15" fill="#111"/>
<circle cx="492.00" cy="638.31" r="1.15" fill="#111"/>
<rect x="478.80" y="608.72" width="26.4" height="2.3" fill="#d8182a"/>
<rect x="46.5" y="504.2" width="472" height="162.60" fill="none" stroke="#000" stroke-width="1.8"/>
<line x1="43.6" y1="666.80" x2="46.5" y2="666.80" stroke="#000" stroke-width="1.2"/>
<text x="34.08" y="670.40" font-size="12.8" fill="#1a1a1a" stroke="#1a1a1a" stroke-width="0.3">0</text>
<line x1="44.6" y1="658.66" x2="46.5" y2="658.66" stroke="#000" stroke-width="1.2"/>
<line x1="44.6" y1="650.52" x2="46.5" y2="650.52" stroke="#000" stroke-width="1.2"/>
<line x1="44.6" y1="642.38" x2="46.5" y2="642.38" stroke="#000" stroke-width="1.2"/>
<line x1="44.6" y1="634.24" x2="46.5" y2="634.24" stroke="#000" stroke-width="1.2"/>
<line x1="43.6" y1="626.10" x2="46.5" y2="626.10" stroke="#000" stroke-width="1.2"/>
<text x="26.96" y="629.70" font-size="12.8" fill="#1a1a1a" stroke="#1a1a1a" stroke-width="0.3">10</text>
<line x1="44.6" y1="617.96" x2="46.5" y2="617.96" stroke="#000" stroke-width="1.2"/>
<line x1="44.6" y1="609.82" x2="46.5" y2="609.82" stroke="#000" stroke-width="1.2"/>
<line x1="44.6" y1="601.68" x2="46.5" y2="601.68" stroke="#000" stroke-width="1.2"/>
<line x1="44.6" y1="593.54" x2="46.5" y2="593.54" stroke="#000" stroke-width="1.2"/>
<line x1="43.6" y1="585.40" x2="46.5" y2="585.40" stroke="#000" stroke-width="1.2"/>
<text x="26.96" y="589.00" font-size="12.8" fill="#1a1a1a" stroke="#1a1a1a" stroke-width="0.3">20</text>
<line x1="44.6" y1="577.26" x2="46.5" y2="577.26" stroke="#000" stroke-width="1.2"/>
<line x1="44.6" y1="569.12" x2="46.5" y2="569.12" stroke="#000" stroke-width="1.2"/>
<line x1="44.6" y1="560.98" x2="46.5" y2="560.98" stroke="#000" stroke-width="1.2"/>
<line x1="44.6" y1="552.84" x2="46.5" y2="552.84" stroke="#000" stroke-width="1.2"/>
<line x1="43.6" y1="544.70" x2="46.5" y2="544.70" stroke="#000" stroke-width="1.2"/>
<text x="26.96" y="548.30" font-size="12.8" fill="#1a1a1a" stroke="#1a1a1a" stroke-width="0.3">30</text>
<line x1="44.6" y1="536.56" x2="46.5" y2="536.56" stroke="#000" stroke-width="1.2"/>
<line x1="44.6" y1="528.42" x2="46.5" y2="528.42" stroke="#000" stroke-width="1.2"/>
<line x1="44.6" y1="520.28" x2="46.5" y2="520.28" stroke="#000" stroke-width="1.2"/>
<line x1="44.6" y1="512.14" x2="46.5" y2="512.14" stroke="#000" stroke-width="1.2"/>
<line x1="43.6" y1="504.00" x2="46.5" y2="504.00" stroke="#000" stroke-width="1.2"/>
<text x="26.96" y="507.60" font-size="12.8" fill="#1a1a1a" stroke="#1a1a1a" stroke-width="0.3">40</text>
<line x1="46.50" y1="666.8" x2="46.50" y2="673.3" stroke="#000" stroke-width="1.3"/>
<line x1="99.80" y1="666.8" x2="99.80" y2="673.3" stroke="#000" stroke-width="1.3"/>
<line x1="147.20" y1="666.8" x2="147.20" y2="673.3" stroke="#000" stroke-width="1.3"/>
<line x1="194.00" y1="666.8" x2="194.00" y2="673.3" stroke="#000" stroke-width="1.3"/>
<line x1="233.20" y1="666.8" x2="233.20" y2="673.3" stroke="#000" stroke-width="1.3"/>
<line x1="292.20" y1="666.8" x2="292.20" y2="673.3" stroke="#000" stroke-width="1.3"/>
<line x1="352.00" y1="666.8" x2="352.00" y2="673.3" stroke="#000" stroke-width="1.3"/>
<line x1="408.90" y1="666.8" x2="408.90" y2="673.3" stroke="#000" stroke-width="1.3"/>
<line x1="465.00" y1="666.8" x2="465.00" y2="673.3" stroke="#000" stroke-width="1.3"/>
<line x1="518.50" y1="666.8" x2="518.50" y2="673.3" stroke="#000" stroke-width="1.3"/>
<text transform="translate(50.26,682.10) scale(0.7520,1)" font-size="12.0" font-weight="normal" fill="#1a1a1a" stroke="#1a1a1a" stroke-width="0.3">transitional</text>
<text transform="translate(63.27,697.20) scale(0.8703,1)" font-size="11.6" font-weight="normal" fill="#1a1a1a" stroke="#1a1a1a" stroke-width="0.3">(92)</text>
<text transform="translate(101.96,682.10) scale(0.7986,1)" font-size="12.0" font-weight="normal" fill="#1a1a1a" stroke="#1a1a1a" stroke-width="0.3">naive mat.</text>
<text transform="translate(115.30,697.20) scale(0.8390,1)" font-size="11.6" font-weight="normal" fill="#1a1a1a" stroke="#1a1a1a" stroke-width="0.3">(57)</text>
<text transform="translate(199.21,682.10) scale(0.7448,1)" font-size="12.0" font-weight="normal" fill="#1a1a1a" stroke="#1a1a1a" stroke-width="0.3">nat. eff.</text>
<text transform="translate(205.92,697.20) scale(0.8025,1)" font-size="11.6" font-weight="normal" fill="#1a1a1a" stroke="#1a1a1a" stroke-width="0.3">(73)</text>
<text transform="translate(237.15,682.10) scale(0.8126,1)" font-size="12.0" font-weight="normal" fill="#1a1a1a" stroke="#1a1a1a" stroke-width="0.3">CD27</text><path d="M262.49,673.60H266.89M264.69,671.10V676.10" stroke="#1a1a1a" stroke-width="1.25" fill="none"/><text transform="translate(267.09,682.10) scale(0.8126,1)" font-size="12.0" font-weight="normal" fill="#1a1a1a" stroke="#1a1a1a" stroke-width="0.3">IgM</text><path d="M283.45,673.60H287.85M285.65,671.10V676.10" stroke="#1a1a1a" stroke-width="1.25" fill="none"/>
<text transform="translate(252.99,697.20) scale(0.8546,1)" font-size="11.6" font-weight="normal" fill="#1a1a1a" stroke="#1a1a1a" stroke-width="0.3">(68)</text>
<text transform="translate(296.75,682.10) scale(0.8204,1)" font-size="12.0" font-weight="normal" fill="#1a1a1a" stroke="#1a1a1a" stroke-width="0.3">CD27</text><path d="M322.33,673.60H326.73M324.53,671.10V676.10" stroke="#1a1a1a" stroke-width="1.25" fill="none"/><text transform="translate(326.92,682.10) scale(0.8204,1)" font-size="12.0" font-weight="normal" fill="#1a1a1a" stroke="#1a1a1a" stroke-width="0.3">IgG</text><path d="M342.95,673.60H347.35M345.15,671.10V676.10" stroke="#1a1a1a" stroke-width="1.25" fill="none"/>
<text transform="translate(311.32,697.20) scale(0.8112,1)" font-size="11.6" font-weight="normal" fill="#1a1a1a" stroke="#1a1a1a" stroke-width="0.3">(100)</text>
<text transform="translate(355.66,682.10) scale(0.8026,1)" font-size="12.0" font-weight="normal" fill="#1a1a1a" stroke="#1a1a1a" stroke-width="0.3">CD27</text><path d="M380.70,673.60H385.10M382.90,671.10V676.10" stroke="#1a1a1a" stroke-width="1.25" fill="none"/><text transform="translate(385.31,682.10) scale(0.8026,1)" font-size="12.0" font-weight="normal" fill="#1a1a1a" stroke="#1a1a1a" stroke-width="0.3">IgA</text><path d="M400.65,673.60H405.05M402.85,671.10V676.10" stroke="#1a1a1a" stroke-width="1.25" fill="none"/>
<text transform="translate(369.02,697.20) scale(0.8112,1)" font-size="11.6" font-weight="normal" fill="#1a1a1a" stroke="#1a1a1a" stroke-width="0.3">(100)</text>
<text transform="translate(413.28,682.10) scale(0.7713,1)" font-size="12.0" font-weight="normal" fill="#1a1a1a" stroke="#1a1a1a" stroke-width="0.3">CD27</text><rect x="437.48" y="673.90" width="2.40" height="1.2" fill="#1a1a1a"/><text transform="translate(440.42,682.10) scale(0.7713,1)" font-size="12.0" font-weight="normal" fill="#1a1a1a" stroke="#1a1a1a" stroke-width="0.3">IgG</text><path d="M455.55,673.60H459.95M457.75,671.10V676.10" stroke="#1a1a1a" stroke-width="1.25" fill="none"/>
<text transform="translate(427.54,697.20) scale(0.9224,1)" font-size="11.6" font-weight="normal" fill="#1a1a1a" stroke="#1a1a1a" stroke-width="0.3">(62)</text>
<text transform="translate(469.08,682.10) scale(0.7681,1)" font-size="12.0" font-weight="normal" fill="#1a1a1a" stroke="#1a1a1a" stroke-width="0.3">CD27</text><rect x="493.18" y="673.90" width="2.40" height="1.2" fill="#1a1a1a"/><text transform="translate(496.13,682.10) scale(0.7681,1)" font-size="12.0" font-weight="normal" fill="#1a1a1a" stroke="#1a1a1a" stroke-width="0.3">IgA</text><path d="M510.85,673.60H515.25M513.05,671.10V676.10" stroke="#1a1a1a" stroke-width="1.25" fill="none"/>
<text transform="translate(482.84,697.20) scale(0.9224,1)" font-size="11.6" font-weight="normal" fill="#1a1a1a" stroke="#1a1a1a" stroke-width="0.3">(81)</text>
<text x="207.01" y="543.30" font-size="16.4" fill="#1a1a1a" stroke="#1a1a1a" stroke-width="0.35">*</text>
<text x="214.81" y="543.30" font-size="16.4" fill="#1a1a1a" stroke="#1a1a1a" stroke-width="0.35">*</text>
<text x="252.51" y="543.30" font-size="16.4" fill="#1a1a1a" stroke="#1a1a1a" stroke-width="0.35">*</text>
<text x="260.31" y="543.30" font-size="16.4" fill="#1a1a1a" stroke="#1a1a1a" stroke-width="0.35">*</text>
<text x="268.11" y="543.30" font-size="16.4" fill="#1a1a1a" stroke="#1a1a1a" stroke-width="0.35">*</text>
<text x="311.41" y="543.30" font-size="16.4" fill="#1a1a1a" stroke="#1a1a1a" stroke-width="0.35">*</text>
<text x="319.21" y="543.30" font-size="16.4" fill="#1a1a1a" stroke="#1a1a1a" stroke-width="0.35">*</text>
<text x="327.01" y="543.30" font-size="16.4" fill="#1a1a1a" stroke="#1a1a1a" stroke-width="0.35">*</text>
<text x="369.21" y="543.30" font-size="16.4" fill="#1a1a1a" stroke="#1a1a1a" stroke-width="0.35">*</text>
<text x="377.01" y="543.30" font-size="16.4" fill="#1a1a1a" stroke="#1a1a1a" stroke-width="0.35">*</text>
<text x="384.81" y="543.30" font-size="16.4" fill="#1a1a1a" stroke="#1a1a1a" stroke-width="0.35">*</text>
<text x="429.81" y="543.30" font-size="16.4" fill="#1a1a1a" stroke="#1a1a1a" stroke-width="0.35">*</text>
<text x="437.61" y="543.30" font-size="16.4" fill="#1a1a1a" stroke="#1a1a1a" stroke-width="0.35">*</text>
<text x="481.41" y="543.30" font-size="16.4" fill="#1a1a1a" stroke="#1a1a1a" stroke-width="0.35">*</text>
<text x="489.21" y="543.30" font-size="16.4" fill="#1a1a1a" stroke="#1a1a1a" stroke-width="0.35">*</text>
<text x="497.01" y="543.30" font-size="16.4" fill="#1a1a1a" stroke="#1a1a1a" stroke-width="0.35">*</text>
<text transform="translate(148.85,594.80) scale(0.8041,1)" font-size="10.3" font-weight="normal" fill="#1a1a1a" stroke="#1a1a1a" stroke-width="0.3">centrocytes</text>
<text transform="translate(147.96,611.60) scale(0.8056,1)" font-size="10.0" font-weight="normal" fill="#1a1a1a" stroke="#1a1a1a" stroke-width="0.3">centroblasts</text>
<text transform="translate(18.90,656.10) rotate(-90) scale(0.8808,1)" font-size="12.3" fill="#1a1a1a" stroke="#1a1a1a" stroke-width="0.12">IGH-CDR3 size (amino acids)</text>
</svg>
</body></html>
